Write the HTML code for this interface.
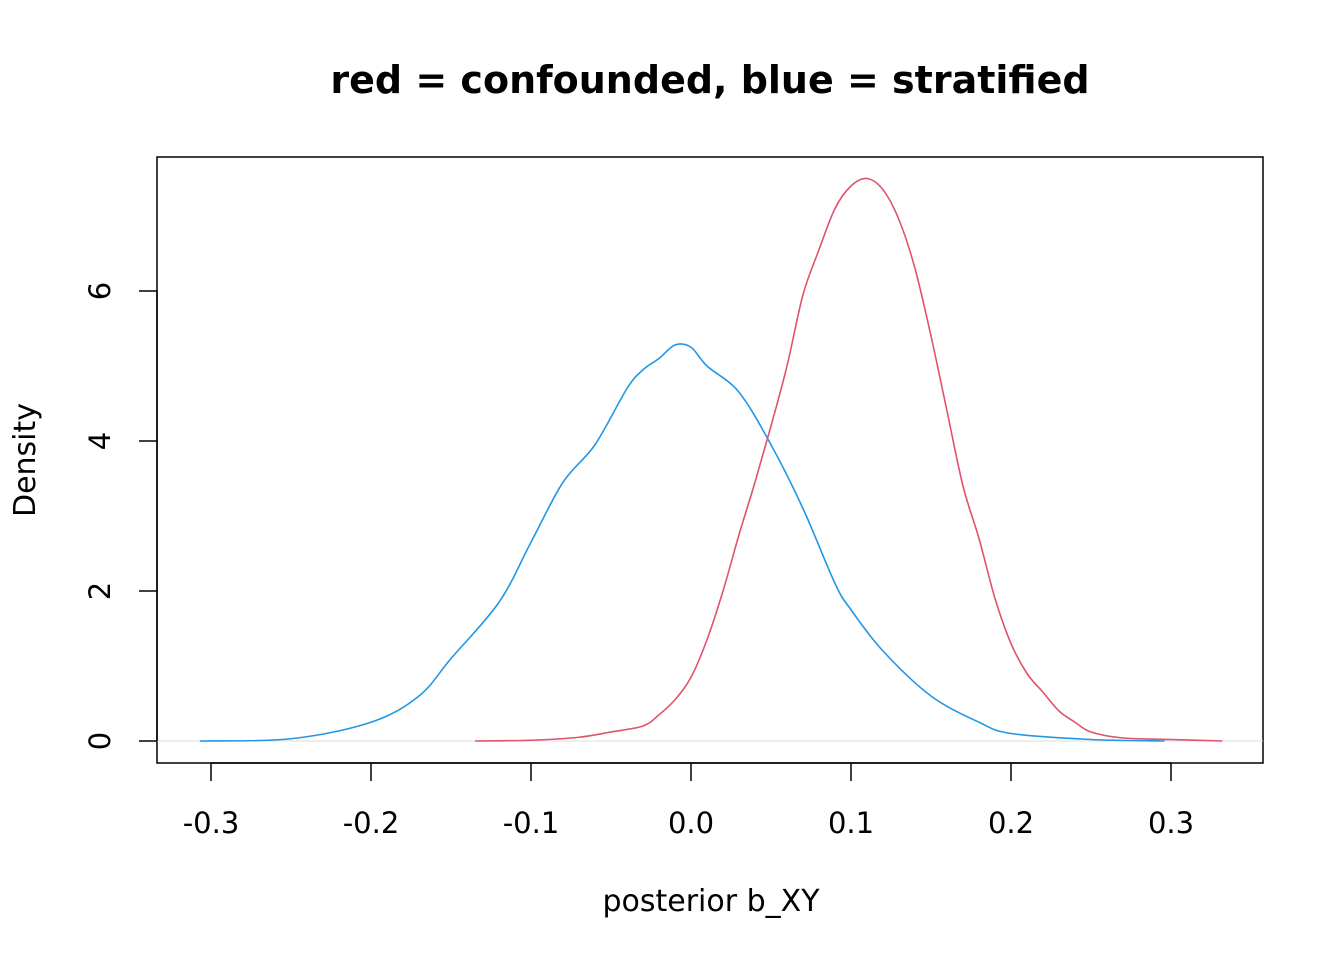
<!DOCTYPE html>
<html><head><meta charset="utf-8"><style>
body{margin:0;background:#fff}
svg{display:block;font-family:"DejaVu Sans","Liberation Sans",sans-serif}
</style></head><body>
<svg id="chart" width="1344" height="960">
<rect x="0" y="0" width="1344" height="960" fill="#fff"/>
<text x="710" y="93" text-anchor="middle" font-size="38" font-weight="bold">red = confounded, blue = stratified</text>
<rect x="157" y="157" width="1106" height="606" fill="none" stroke="#000" stroke-width="1.5"/>
<line x1="157" x2="1263" y1="741" y2="741" stroke="#ddd" stroke-width="1"/>
<g id="xaxis"></g>
<g id="yaxis"></g>
<g id="series"></g>
<text x="711" y="911" text-anchor="middle" font-size="30">posterior b_XY</text>
<text transform="translate(35,460) rotate(-90)" text-anchor="middle" font-size="30">Density</text>
</svg>
<script>
const xTicks=[-0.3,-0.2,-0.1,0.0,0.1,0.2,0.3];
const xTickLabels=["-0.3","-0.2","-0.1","0.0","0.1","0.2","0.3"];
const yTicks=[0,2,4,6];
const blueX=[-0.307,-0.25,-0.2,-0.17,-0.15,-0.12,-0.1,-0.08,-0.06,-0.04,-0.03,-0.02,-0.01,0,0.01,0.03,0.05,0.07,0.09,0.1,0.12,0.15,0.18,0.2,0.25,0.296];
const blueY=[0,0.03,0.25,0.6,1.1,1.85,2.65,3.45,3.95,4.7,4.95,5.1,5.28,5.25,5.0,4.65,3.95,3.1,2.1,1.75,1.2,0.6,0.25,0.1,0.02,0];
const redX=[-0.135,-0.1,-0.07,-0.05,-0.03,-0.02,-0.01,0,0.01,0.02,0.03,0.04,0.05,0.06,0.07,0.08,0.09,0.1,0.11,0.12,0.13,0.14,0.15,0.16,0.17,0.18,0.19,0.2,0.21,0.22,0.23,0.24,0.25,0.27,0.3,0.332];
const redY=[0,0.01,0.05,0.12,0.2,0.35,0.55,0.85,1.35,2.0,2.75,3.45,4.2,5.0,5.95,6.55,7.1,7.4,7.5,7.35,6.95,6.3,5.4,4.4,3.4,2.7,1.9,1.3,0.9,0.65,0.4,0.25,0.12,0.04,0.02,0];
const NS="http://www.w3.org/2000/svg";
const sx=v=>691+v*1600, sy=v=>741-v*75;
function mk(t,a,p){const e=document.createElementNS(NS,t);for(const k in a)e.setAttribute(k,a[k]);p.appendChild(e);return e;}
const xa=document.getElementById('xaxis');
mk('line',{x1:sx(xTicks[0]),x2:sx(xTicks[xTicks.length-1]),y1:763,y2:763,stroke:'#000','stroke-width':1.5},xa);
xTicks.forEach((t,i)=>{
 const l=mk('line',{x1:sx(t),x2:sx(t),y1:763,y2:781,stroke:'#000','stroke-width':1.5},xa);
 
 
 const tx=mk('text',{x:sx(t),y:833,'text-anchor':'middle','font-size':29},xa);tx.textContent=xTickLabels[i];
 
 
});
const ya=document.getElementById('yaxis');
mk('line',{x1:157,x2:157,y1:sy(yTicks[0]),y2:sy(yTicks[yTicks.length-1]),stroke:'#000','stroke-width':1.5},ya);
yTicks.forEach(t=>{
 const l=mk('line',{x1:139,x2:157,y1:sy(t),y2:sy(t),stroke:'#000','stroke-width':1.5},ya);
 
 
 const tx=mk('text',{transform:`translate(110,${sy(t)}) rotate(-90)`,'text-anchor':'middle','font-size':29},ya);tx.textContent=String(t);
 
 
});
function path(xs,ys){let d='';for(let i=0;i<xs.length;i++){const x=sx(xs[i]),y=sy(ys[i]);
 if(i==0)d+=`M${x},${y}`;else{const x0=sx(xs[i-1]),y0=sy(ys[i-1]);
 const xp=i>1?sx(xs[i-2]):x0,yp=i>1?sy(ys[i-2]):y0,xn=i<xs.length-1?sx(xs[i+1]):x,yn=i<xs.length-1?sy(ys[i+1]):y;
 d+=`C${x0+(x-xp)/6},${y0+(y-yp)/6} ${x-(xn-x0)/6},${y-(yn-y0)/6} ${x},${y}`;}}return d;}
const g=document.getElementById('series');
const b=mk('path',{d:path(blueX,blueY),fill:'none',stroke:'#2297E6','stroke-width':1.6},g);


const r=mk('path',{d:path(redX,redY),fill:'none',stroke:'#DF536B','stroke-width':1.6},g);


</script>
</body></html>
